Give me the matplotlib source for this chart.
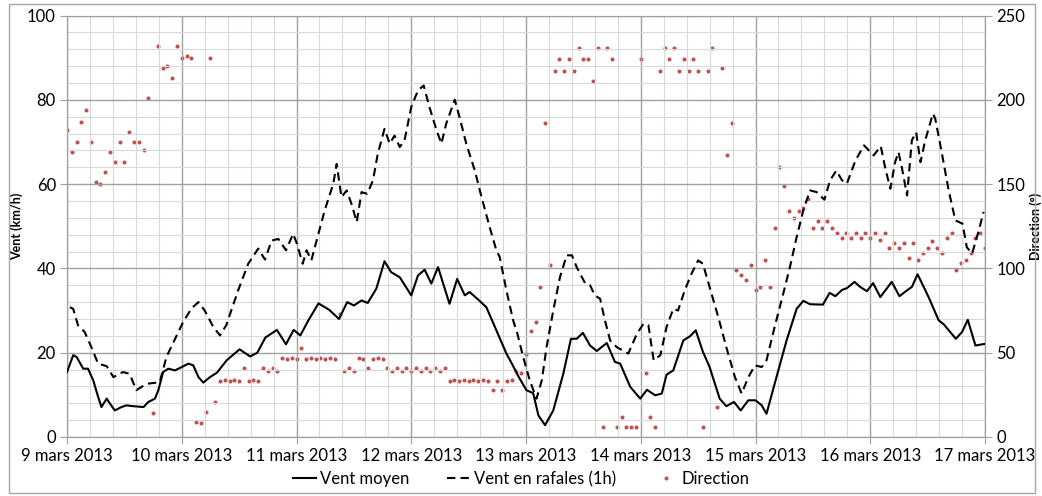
import matplotlib
matplotlib.use("Agg")
import matplotlib.pyplot as plt
from matplotlib.lines import Line2D
from matplotlib.patches import Rectangle
import numpy as np

plt.rcParams['font.family'] = ['Lato', 'DejaVu Sans']

# heures depuis le 9 mars 2013 00h
day_labels = ['9 mars 2013', '10 mars 2013', '11 mars 2013', '12 mars 2013', '13 mars 2013',
              '14 mars 2013', '15 mars 2013', '16 mars 2013', '17 mars 2013']

# vent moyen (km/h)
moy_h = [0, 1.3, 2, 3.4, 4.4, 5.5, 6.3, 7.2, 8.3, 9, 10, 11.4, 12.4, 13.9, 16, 17, 18.4, 19.1,
         20.1, 21.2, 22.6, 24, 25.4, 26.4, 27.5, 28.5, 29.9, 31.4, 33.4, 36.1, 38.3, 39.8, 41.5,
         43.9, 45.8, 47.4, 48.8, 50.5, 52.6, 54.8, 56.9, 58.6, 60, 61.6, 62.9, 64.7, 66.4, 67.8,
         69.6, 72, 73.4, 74.8, 76.2, 77.6, 80, 81.6, 83.2, 84.2, 86, 87.7, 89.5, 91.9, 93, 94.5,
         96.1, 97.5, 98.6, 100, 101.7, 103.8, 105.4, 106.6, 107.9, 109.4, 110.8, 112.9, 114.6,
         115.7, 117.8, 119.9, 121.3, 123, 124.4, 125.4, 126.8, 128.9, 130.3, 131.5, 133, 134.4,
         136.5, 137.9, 139.5, 140.9, 142.5, 144, 145.3, 146.3, 148, 150.5, 152.6, 154, 155.4,
         158.1, 159.5, 160.7, 162.1, 163.1, 164.7, 165.9, 167.3, 168.6, 170.1, 172.5, 174.1,
         175.7, 176.7, 177.9, 180.2, 182.3, 183.4, 185.9, 187.2, 188.4, 190, 192]
moy_v = [15.4, 19.4, 19, 16.2, 16.2, 13.4, 10.3, 7.1, 9.1, 7.9, 6.3, 7.1, 7.5, 7.3, 7.1, 8.3, 9.1, 11.1,
         15.4, 16.2, 15.8, 16.6, 17.4, 17, 14.2, 12.9, 14.2, 15.3, 18.2, 20.8, 19.1, 20, 23.6,
         25.4, 22, 25.4, 24.1, 27.7, 31.7, 30.2, 28, 32, 31.2, 32.4, 31.8, 35.2, 41.7, 39.1,
         37.9, 33.6, 38.3, 39.7, 36.4, 40.3, 31.6, 37.5, 33.6, 34.4, 32.6, 30.8, 26.1, 19.8, 17.5, 14.2,
         11.1, 10.4, 5.1, 2.8, 6.3, 15, 23.3, 23.3, 24.7, 21.7, 20.4, 22.3, 17.8,
         17.4, 11.9, 9.1, 11.2, 9.9, 10.3, 14.8, 15.8, 22.9, 23.9, 25.3, 20.2, 16.6,
         9.1, 7.3, 8.3, 6.3, 8.7, 8.7, 7.5, 5.5, 12.6, 22.9, 30.4, 32.3, 31.5,
         31.4, 34.2, 33.4, 34.9, 35.3, 36.8, 35.6, 34.6, 36.5, 33.2, 36.8, 33.4,
         34.8, 35.6, 38.6, 33.2, 27.7, 26.7, 23.3, 24.9, 27.8, 21.7, 22.1]

# vent en rafales (km/h)
raf_h = [0.6, 1.3, 2.3, 3.7, 5.1, 6.5, 8.3, 9.7, 11.7, 13.1, 14.5, 16.6, 19.4, 20.8, 22.6, 24.3,
         26.1, 27.5, 28.8, 30.6, 32, 33.3, 35.8, 37.9, 40, 41.4, 42.8, 44.2, 45.8, 47.3, 48.1,
         49.3, 50.1, 51.1, 52.2, 53.9, 55.7, 56.4, 57.4, 58.5, 59.5, 60.6, 61.6, 62.8, 64, 65,
         66.4, 67.5, 68.5, 69.6, 70.6, 72, 73.4, 74.6, 75.8, 77.2, 78.3, 79.3, 81.1, 82.1, 83.5,
         85.3, 86.7, 88.4, 89.8, 90.5, 91.9, 93.3, 94.2, 95.4, 96.8, 98.2, 99.3, 100.3, 101.7,
         103.1, 104.5, 105.6, 106.6, 108.4, 109.4, 110.4, 111.5, 112.5, 113.6, 115, 117.4,
         119.2, 120.6, 121.6, 122.7, 124.1, 125.4, 126.8, 127.8, 129.2, 130.6, 132, 133, 134.4,
         136.2, 137.9, 139.7, 141.1, 142.5, 143.9, 145.3, 146.3, 148, 149.8, 151.2, 152.6, 154,
         155.4, 156.8, 158.4, 159.6, 160.9, 162.1, 163.1, 164.9, 166.7, 168.7, 170.2, 171.1,
         172.2, 173.2, 173.9, 174.6, 175.7, 176.7, 177.6, 178.5, 179.5, 181.1, 181.6, 183,
         184.4, 185.8, 187.3, 188.2, 189.3, 190.7, 191.7]
raf_v = [30.8, 30.4, 26.5, 24.9, 21.3, 17.4, 16.8, 14.2, 15.4, 15, 11.1, 12.6, 13, 19, 23.3, 27.3,
         30.6, 32, 30, 26.1, 24.1, 26.5, 34.8, 41.1, 44.7, 42.1, 46.6, 47, 44.3, 48.2, 45.8,
         41.1, 44.3, 41.9, 46.6, 53.8, 60.1, 64.8, 56.9, 58.5, 55.3, 51, 58.1, 57.7, 60.9, 67.2,
         73.1, 69.6, 71.5, 68.8, 70.4, 78.3, 82.2, 83.4, 78.3, 73.1, 69.6, 74.3, 80, 75.9, 69.6,
         63.2, 56.9, 49.8, 44.3, 42.7, 34.8, 27.7, 24.5, 19, 13.4, 9.1, 13.4, 21.3, 30,
         37.9, 43.1, 43.1, 40.3, 36.4, 36, 33.6, 32.8, 27.7, 22.9, 21.3, 19.8,
         24.5, 26.9, 26.5, 18.2, 19.4, 26.1, 30.4, 30, 34.8, 38.7, 41.9, 41.1, 35.6,
         28.5, 21.3, 14.2, 10.3, 14.2, 17, 16.6, 18.2, 26.1, 34, 40.3, 47.4, 53.8,
         58.5, 58.1, 56.3, 60.9, 63.2, 60.9, 60.1, 65.6, 69.2, 66.8, 69, 64,
         58.9, 65.2, 67.6, 64, 57.3, 70.4, 72.3, 65.2, 70.4, 76.7, 75.5, 67.2,
         58.5, 51.4, 50.6, 45, 43.5, 49, 53.4]

# direction (degres), une valeur par heure
direction = [182, 169, 175, 187, 194, 175, 151, 150, 157, 169, 163, 175, 163, 181, 175, 175, 170, 201,
             14, 232, 219, 220, 213, 232, 225, 226, 225, 9, 8, 15, 225, 21, 33, 34, 33, 34, 33, 41,
             33, 34, 33, 41, 39, 41, 39, 47, 46, 47, 46, 53, 46, 47, 46, 47, 46, 47, 46, 73, 39, 41,
             39, 47, 46, 41, 46, 47, 46, 41, 39, 41, 39, 41, 39, 41, 39, 41, 39, 41, 39, 41, 33, 34,
             33, 34, 33, 34, 33, 34, 33, 28, 33, 28, 33, 34, 39, 38, 49, 63, 68, 89, 186, 102, 217,
             224, 217, 224, 217, 231, 224, 224, 211, 231, 6, 231, 224, 6, 12, 6, 6, 6, 224, 38, 12,
             6, 217, 231, 224, 231, 217, 224, 217, 224, 217, 6, 217, 231, 18, 219, 167, 186, 99,
             96, 93, 102, 87, 89, 105, 89, 124, 160, 149, 134, 130, 134, 136, 141, 124, 128, 124,
             128, 124, 121, 118, 121, 118, 121, 118, 121, 118, 121, 117, 121, 112, 115, 112, 115,
             106, 115, 105, 109, 112, 116, 112, 109, 118, 121, 99, 103, 105, 109, 118, 121, 112]

fig = plt.figure(figsize=(10.42, 4.96), dpi=100)
ax = fig.add_axes([0.0643, 0.119, 0.881, 0.8497])
ax2 = ax.twinx()

ax.set_xlim(0, 192)
ax.set_ylim(0, 100)
ax2.set_ylim(0, 250)

ax.set_xticks(np.arange(0, 193, 24))
ax.set_xticklabels(day_labels)
ax.set_xticks(np.arange(0, 193, 4.8), minor=True)
ax.set_yticks(np.arange(0, 101, 20))
ax.set_yticks(np.arange(0, 101, 4), minor=True)
ax2.set_yticks(np.arange(0, 251, 50))

ax.grid(which='minor', color='#d9d9d9', linewidth=0.8)
ax.grid(which='major', color='#a0a0a0', linewidth=1.0)
ax.set_axisbelow(True)
ax.tick_params(which='minor', length=0)
ax.tick_params(which='major', length=5, color='#a0a0a0', labelsize=12, pad=3)
ax2.tick_params(length=5, color='#a0a0a0', labelsize=12, pad=3)
for a in (ax, ax2):
    for s in a.spines.values():
        s.set_color('#a0a0a0')

ax2.plot(np.arange(len(direction)), direction, linestyle='none', marker='o', markersize=2.9,
         markeredgewidth=0, color='#c0504d', zorder=2)
ax.plot(moy_h, moy_v, color='black', linewidth=1.5, zorder=3)
ax.plot(raf_h, raf_v, color='black', linewidth=1.5, linestyle=(0, (4, 2.5)), zorder=3)
ax.set_zorder(ax2.get_zorder() + 1)
ax.patch.set_visible(False)

ax.set_ylabel('Vent (km/h)', fontsize=9, fontweight='bold', labelpad=3)
ax2.set_ylabel('Direction (°)', fontsize=9, fontweight='bold', labelpad=3)

handles = [Line2D([], [], color='black', linewidth=1.5),
           Line2D([], [], color='black', linewidth=1.5, linestyle=(0, (4, 2.5))),
           Line2D([], [], color='#c0504d', marker='o', markersize=2.9, markeredgewidth=0,
                  linestyle='none')]
fig.legend(handles, ['Vent moyen', 'Vent en rafales (1h)', 'Direction'], loc='center',
           bbox_to_anchor=(0.5, 0.034), ncol=3, frameon=False, fontsize=12,
           handlelength=1.4, handletextpad=0.2, columnspacing=2.3)

fig.patches.append(Rectangle((0.009, 0.006), 0.984, 0.985, transform=fig.transFigure,
                             fill=False, edgecolor='#a6a6a6', linewidth=1.0))

fig.savefig('out.png', dpi=100)
